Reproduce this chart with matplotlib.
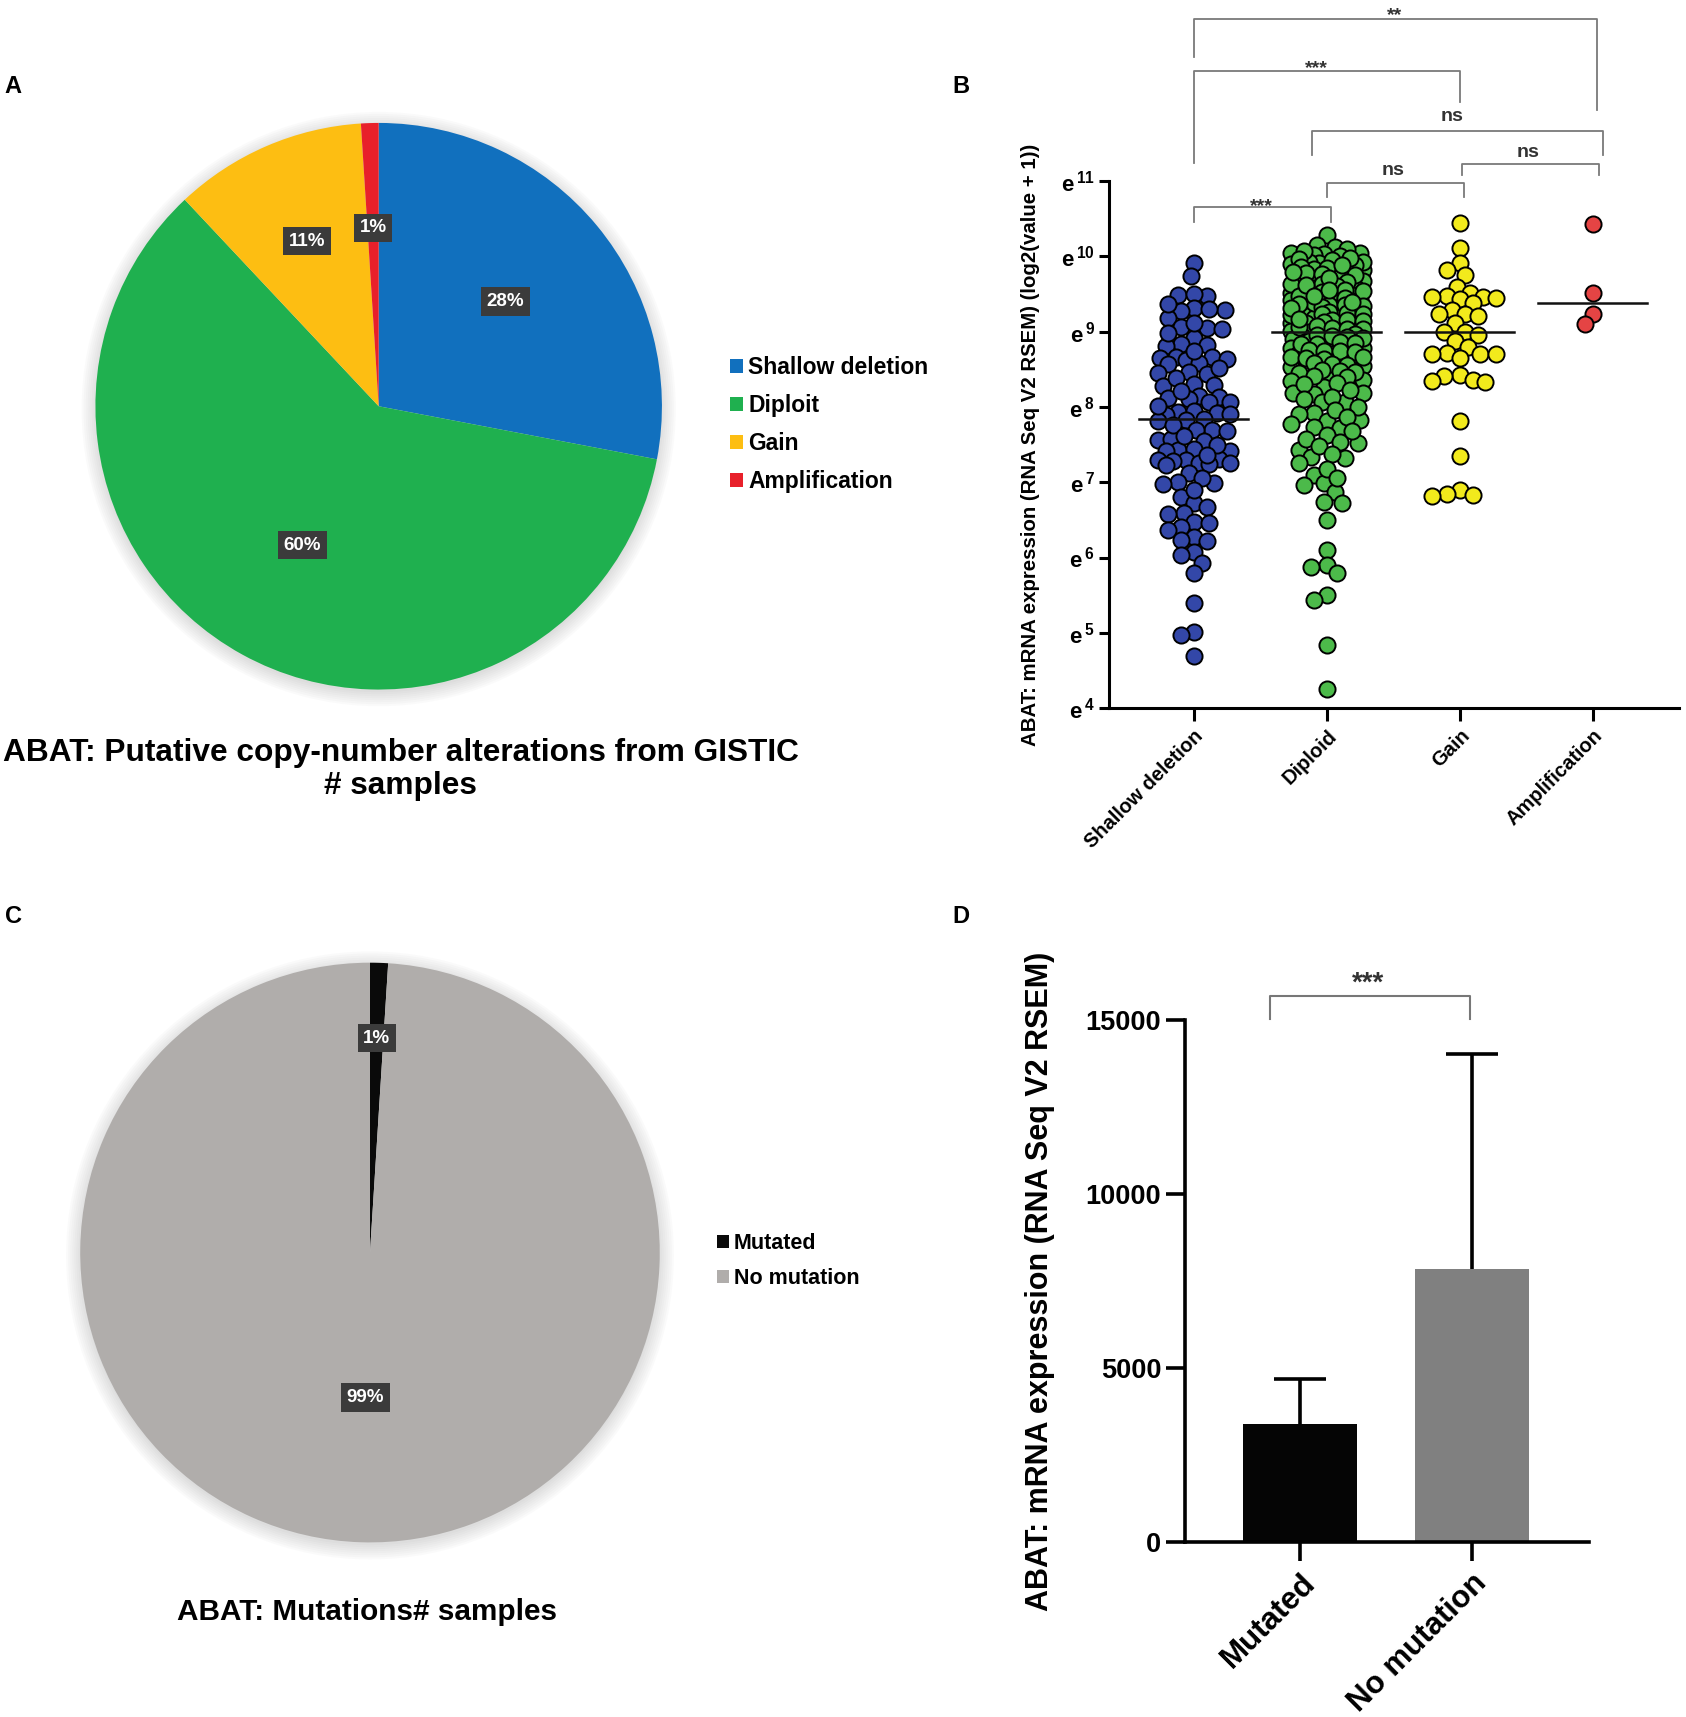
import numpy as np
import matplotlib.pyplot as plt
from matplotlib.patches import Patch, Circle

plt.rcParams['font.family'] = ['Liberation Sans', 'DejaVu Sans']
plt.rcParams['font.weight'] = 'bold'
plt.rcParams['mathtext.fontset'] = 'custom'
plt.rcParams['mathtext.rm'] = 'Liberation Sans:bold'
plt.rcParams['mathtext.bf'] = 'Liberation Sans:bold'

# ==========================================
# data
# ==========================================
# A: copy-number pie (%)
cnv_labels = ['Shallow deletion', 'Diploit', 'Gain', 'Amplification']
cnv_pct = [28, 60, 11, 1]
cnv_colors = ['#1170be', '#1fb04f', '#fdbe12', '#e8202a']

# B: expression per CNV group, exponent of e
grp_labels = ['Shallow deletion', 'Diploid', 'Gain', 'Amplification']
grp_colors = ['#3347a8', '#4cba4a', '#f2ea1c', '#e54444']
shallow = [9.91, 9.74, 9.49, 9.47, 9.50, 9.29, 9.31, 9.27, 9.30, 9.18,
           9.05, 9.06, 9.04, 8.92, 8.82, 8.83, 8.81, 8.65, 8.66, 8.64,
           8.67, 8.63, 8.58, 8.57, 8.45, 8.46, 8.44, 8.29, 8.30, 8.28,
           8.13, 8.14, 8.12, 8.11, 8.07, 8.06, 7.92, 7.93, 7.91, 7.94,
           7.90, 7.83, 7.84, 7.82, 7.69, 7.70, 7.68, 7.56, 7.57, 7.55,
           7.43, 7.44, 7.42, 7.41, 7.30, 7.31, 7.29, 7.28, 7.25, 7.24,
           7.26, 7.23, 7.12, 6.99, 7.00, 6.98, 6.80, 6.72, 6.67, 6.59,
           6.58, 6.47, 6.46, 6.41, 6.37, 6.27, 6.23, 6.22, 6.07, 6.03,
           5.93, 5.79, 5.40, 5.01, 4.97, 4.69,
           9.37, 9.12, 8.98, 8.74, 8.52, 8.38, 8.21, 8.01, 7.76, 7.62,
           7.49, 7.36, 7.05, 6.90]
diploid = [10.28, 10.15, 10.13, 10.04, 10.05, 10.03, 10.02, 9.91, 9.92, 9.90,
           9.82, 9.83, 9.81, 9.80, 9.69, 9.70, 9.68, 9.58, 9.59, 9.57,
           9.51, 9.52, 9.50, 9.49, 9.42, 9.43, 9.41, 9.40, 9.44, 9.29,
           9.30, 9.28, 9.31, 9.27, 9.20, 9.21, 9.19, 9.18, 9.11, 9.12,
           9.10, 9.09, 9.00, 9.01, 8.99, 9.02, 8.95, 8.89, 8.90, 8.88,
           8.80, 8.81, 8.79, 8.78, 8.71, 8.72, 8.70, 8.69, 8.62, 8.63,
           8.61, 8.53, 8.54, 8.52, 8.45, 8.44, 8.36, 8.35, 8.27, 8.18,
           8.19, 8.17, 8.07, 8.06, 7.92, 7.91, 7.83, 7.82, 7.73, 7.72,
           7.63, 7.53, 7.52, 7.43, 7.33, 7.32, 7.25,
           7.10, 6.99, 6.97, 6.87, 6.74, 6.72, 6.50, 6.10, 5.90, 5.88,
           5.79, 5.50, 5.44, 4.84, 4.25,
           10.10, 10.07, 10.00, 9.97, 9.95, 9.93, 9.88, 9.86, 9.85, 9.78,
           9.76, 9.75, 9.73, 9.66, 9.64, 9.63, 9.61, 9.55, 9.54, 9.53,
           9.47, 9.46, 9.45, 9.38, 9.37, 9.36, 9.35, 9.34, 9.33, 9.26,
           9.25, 9.24, 9.23, 9.22, 9.16, 9.15, 9.14, 9.13, 9.07, 9.06,
           9.05, 9.04, 9.03, 8.97, 8.96, 8.94, 8.93, 8.92, 8.86, 8.85,
           8.84, 8.83, 8.76, 8.75, 8.74, 8.73, 8.67, 8.66, 8.65, 8.64,
           8.58, 8.57, 8.56, 8.49, 8.48, 8.47, 8.41, 8.40, 8.32, 8.30,
           8.23, 8.13, 8.10, 8.00, 7.96, 7.87, 7.78, 7.68, 7.58, 7.48,
           7.38, 7.18, 7.05,
           9.98, 9.89, 9.79, 9.71, 9.62, 9.56, 9.48, 9.39, 9.32, 9.17]
gain = [10.44, 10.11, 9.91, 9.82, 9.75, 9.60, 9.51, 9.47, 9.46, 9.46,
        9.45, 9.44, 9.38, 9.29, 9.24, 9.23, 9.21, 9.11, 9.00, 9.00,
        8.95, 8.87, 8.80, 8.72, 8.71, 8.70, 8.70, 8.65, 8.42, 8.41,
        8.36, 8.35, 8.33, 7.82, 7.35, 6.90, 6.84, 6.83, 6.82]
amplification = [10.43, 9.51, 9.24, 9.10]
groups = [shallow, diploid, gain, amplification]

# significance brackets: (x left, x right, left leg end, top, right leg end, text, text x, text y)
brackets_b = [
    (0.00, 1.03, 10.46, 10.65, 10.46, '***', 0.51, 10.75),
    (1.005, 2.03, 10.79, 10.98, 10.79, 'ns', 1.50, 11.15),
    (2.02, 3.05, 11.08, 11.23, 11.08, 'ns', 2.51, 11.39),
    (0.89, 3.08, 11.35, 11.67, 11.35, 'ns', 1.94, 11.87),
    (0.00, 2.00, 11.24, 12.46, 12.05, '***', 0.92, 12.58),
    (0.00, 3.03, 12.65, 13.15, 11.94, '**', 1.51, 13.29),
]

# C: mutation pie (%)
mut_labels = ['Mutated', 'No mutation']
mut_pct = [1, 99]
mut_colors = ['#0a0a0a', '#b0adab']

# D: bar chart mean + SD
bar_labels = ['Mutated', 'No mutation']
bar_mean = [3390, 7860]
bar_sd = [1310, 6170]
bar_colors = ['#050505', '#808080']


def swarm_x(vals, center, half_w, d_px, xs, ys):
    # simple beeswarm: nearest free slot, else the least crowded one
    vals = np.asarray(vals)
    cand = np.linspace(-half_w, half_w, 29)
    cand = cand[np.argsort(np.abs(cand), kind='stable')]
    px, py = [], []
    out = np.zeros(len(vals))
    for i in np.argsort(-vals, kind='stable'):
        y = vals[i] * ys
        best, best_d = 0.0, -1.0
        for c in cand:
            if px:
                dmin = np.min(np.hypot(np.array(px) - c * xs, np.array(py) - y))
            else:
                dmin = np.inf
            if dmin >= d_px:
                best = c
                break
            if dmin > best_d:
                best_d, best = dmin, c
        px.append(best * xs)
        py.append(y)
        out[i] = center + best
    return out


def pie_labels(ax, wedges, pcts, dists, fs):
    for w, p, d in zip(wedges, pcts, dists):
        ang = np.deg2rad((w.theta1 + w.theta2) / 2)
        ax.text(d * np.cos(ang), d * np.sin(ang), f'{p}%', ha='center', va='center',
                color='white', fontsize=fs, fontweight='bold',
                bbox=dict(boxstyle='square,pad=0.3', fc='#3b3b3b', ec='none'))


def halo(ax):
    for k in range(8):
        ax.add_patch(Circle((0.0, -0.01), 1.0 + 0.007 * k, color='#888888',
                            alpha=0.035, lw=0, zorder=0))


fig = plt.figure(figsize=(16.86, 17.17), dpi=100)

# ==========================================
# A
# ==========================================
axA = fig.add_axes([0.0398, 0.5819, 0.3696, 0.363])
halo(axA)
wA, _ = axA.pie(cnv_pct, colors=cnv_colors, startangle=90, counterclock=False,
                wedgeprops=dict(linewidth=0, zorder=1))
pie_labels(axA, wA, cnv_pct, [0.58, 0.56, 0.635, 0.63], 13.5)
axA.set_xlim(-1.1, 1.1)
axA.set_ylim(-1.1, 1.1)
axA.set_aspect('auto')
axA.axis('off')
fig.legend([Patch(facecolor=c, edgecolor='none') for c in cnv_colors], cnv_labels,
           loc='upper left', bbox_to_anchor=(0.433, 0.7925), frameon=False,
           fontsize=16.5, handlelength=0.55, handleheight=0.55, handletextpad=0.25,
           labelspacing=0.65, borderpad=0, borderaxespad=0)
fig.text(0.2376, 0.5518, 'ABAT: Putative copy-number alterations from GISTIC\n# samples',
         ha='center', va='center', fontsize=22.8, fontweight='bold', linespacing=1.15)

# ==========================================
# B
# ==========================================
axB = fig.add_axes([0.6576, 0.5876, 0.3384, 0.3069])
xs_px, ys_px = 132.8, 75.3
for gi, (vals, col) in enumerate(zip(groups, grp_colors)):
    xpos = swarm_x(vals, gi, 0.27, 13.0, xs_px, ys_px)
    axB.scatter(xpos, vals, s=135, c=col, edgecolors='black', linewidths=1.4, zorder=2,
                clip_on=False)
    med = np.median(vals)
    axB.plot([gi - 0.41, gi + 0.41], [med, med], color='#111111', lw=1.8, zorder=3)

for x1, x2, yl, yt, yr, txt, tx, ty in brackets_b:
    axB.plot([x1, x1, x2, x2], [yl, yt, yt, yr], color='#7a7a7a', lw=1.3, clip_on=False)
    off = 0.15 if '*' in txt else 0.07
    axB.text(tx, ty - off, txt, ha='center', va='baseline', fontsize=14,
             fontweight='bold', color='#333333', clip_on=False)

axB.set_xlim(-0.64, 3.65)
axB.set_ylim(4, 11)
axB.set_yticks(range(4, 12))
axB.set_yticklabels([r'$\mathrm{e}^{\,%d}$' % n for n in range(4, 12)], fontsize=16)
axB.set_xticks(range(4))
axB.set_xticklabels(grp_labels, rotation=45, ha='right', va='top',
                    rotation_mode='anchor', fontsize=14.5)
axB.tick_params(axis='y', length=7, width=2.2, pad=3)
axB.tick_params(axis='x', length=9, width=2.2, pad=4)
for s in ['top', 'right']:
    axB.spines[s].set_visible(False)
for s in ['left', 'bottom']:
    axB.spines[s].set_linewidth(2.2)
axB.set_ylabel('ABAT: mRNA expression (RNA Seq V2 RSEM) (log2(value + 1))',
               fontsize=14.7, fontweight='bold')
axB.yaxis.set_label_coords(-0.12, 0.5)

# ==========================================
# C
# ==========================================
axC = fig.add_axes([0.0304, 0.0848, 0.3781, 0.3714])
halo(axC)
wC, _ = axC.pie(mut_pct, colors=mut_colors, startangle=90, counterclock=False,
                wedgeprops=dict(linewidth=0, zorder=1))
pie_labels(axC, wC, mut_pct, [0.74, 0.5], 13.5)
axC.set_xlim(-1.1, 1.1)
axC.set_ylim(-1.1, 1.1)
axC.set_aspect('auto')
axC.axis('off')
fig.legend([Patch(facecolor=c, edgecolor='none') for c in mut_colors], mut_labels,
           loc='upper left', bbox_to_anchor=(0.4251, 0.2816), frameon=False,
           fontsize=15.5, handlelength=0.55, handleheight=0.55, handletextpad=0.25,
           labelspacing=0.63, borderpad=0, borderaxespad=0)
fig.text(0.2174, 0.0614, 'ABAT: Mutations# samples', ha='center', va='center',
         fontsize=21.4, fontweight='bold')

# ==========================================
# D
# ==========================================
axD = fig.add_axes([0.7031, 0.1017, 0.2396, 0.3043])
xd = np.arange(len(bar_labels))
axD.bar(xd, bar_mean, width=0.664, color=bar_colors, zorder=2)
tops = np.array(bar_mean) + np.array(bar_sd)
axD.vlines(xd, bar_mean, tops, color='black', lw=2.6, zorder=3)
axD.hlines(tops, xd - 0.153, xd + 0.153, color='black', lw=2.6, zorder=3)
axD.plot([-0.174, -0.174, 0.99, 0.99], [15028, 15698, 15698, 15028],
         color='#777777', lw=1.5, clip_on=False)
axD.text(0.395, 15698 + 150, '***', ha='center', va='baseline', fontsize=20,
         fontweight='bold', color='#333333')
axD.set_xlim(-0.667, 1.684)
axD.set_ylim(0, 15000)
axD.set_yticks([0, 5000, 10000, 15000])
axD.set_xticks(xd)
axD.set_xticklabels(bar_labels, rotation=45, ha='right', va='top',
                    rotation_mode='anchor', fontsize=22.5)
axD.tick_params(axis='y', labelsize=19.5, length=13.5, width=2.6, pad=4)
axD.tick_params(axis='x', length=13.5, width=2.6, pad=5)
for s in ['top', 'right']:
    axD.spines[s].set_visible(False)
for s in ['left', 'bottom']:
    axD.spines[s].set_linewidth(2.6)
axD.set_ylabel('ABAT: mRNA expression (RNA Seq V2 RSEM)', fontsize=22, fontweight='bold')
axD.yaxis.set_label_coords(-0.322, 0.5)

# panel letters
for lab, x, y in [('A', 0.0078, 0.9495), ('B', 0.5697, 0.9495),
                  ('C', 0.0078, 0.4661), ('D', 0.570, 0.4661)]:
    fig.text(x, y, lab, ha='center', va='center', fontsize=17, fontweight='bold')

fig.savefig('out.png', dpi=100)
